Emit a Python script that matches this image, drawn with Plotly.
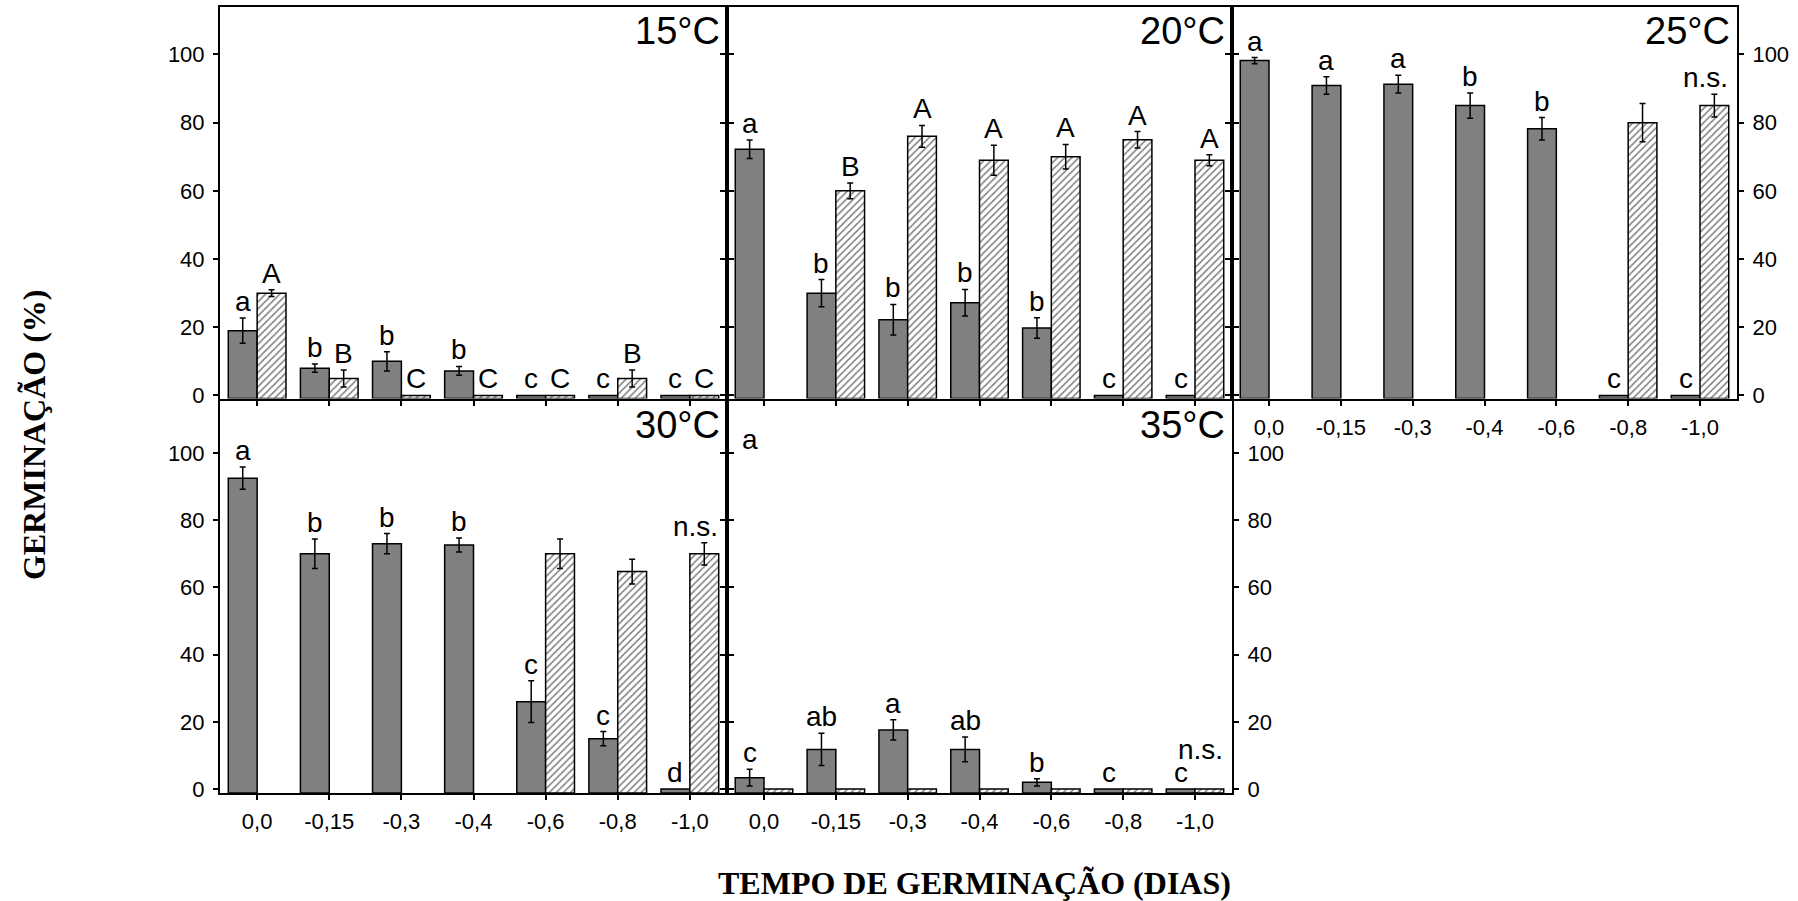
import plotly.graph_objects as go

# ---------------- data ----------------
categories = ["0,0", "-0,15", "-0,3", "-0,4", "-0,6", "-0,8", "-1,0"]
y_tick_vals = [0, 20, 40, 60, 80, 100]

# 15 °C
t15_solid = [19.0, 8.0, 10.0, 7.2, 0, 0, 0]
t15_solid_err = [3.7, 1.2, 2.8, 1.3, 0, 0, 0]
t15_hatch = [30.0, 5.0, 0, 0, 0, 5.0, 0]
t15_hatch_err = [1.0, 2.5, 0, 0, 0, 2.5, 0]
t15_solid_lab = ["a", "b", "b", "b", "c", "c", "c"]
t15_hatch_lab = ["A", "B", "C", "C", "C", "B", "C"]

# 20 °C
t20_solid = [72.2, 30.0, 22.2, 27.2, 19.8, 0, 0]
t20_solid_err = [2.7, 4.0, 4.5, 3.9, 3.0, 0, 0]
t20_hatch = [None, 60.0, 76.0, 69.0, 70.0, 75.0, 69.0]
t20_hatch_err = [0, 2.3, 3.2, 4.4, 3.6, 2.4, 1.6]
t20_solid_lab = ["a", "b", "b", "b", "b", "c", "c"]
t20_hatch_lab = ["", "B", "A", "A", "A", "A", "A"]

# 25 °C
t25_solid = [98.2, 90.9, 91.3, 85.0, 78.2, 0, 0]
t25_solid_err = [0.9, 2.6, 2.6, 3.7, 3.3, 0, 0]
t25_hatch = [None, None, None, None, None, 80.0, 85.0]
t25_hatch_err = [0, 0, 0, 0, 0, 5.6, 3.3]
t25_solid_lab = ["a", "a", "a", "b", "b", "c", "c"]
t25_hatch_lab = ["", "", "", "", "", "", "n.s."]

# 30 °C
t30_solid = [92.5, 70.0, 73.0, 72.6, 26.0, 15.0, 0]
t30_solid_err = [3.3, 4.4, 3.0, 2.1, 6.2, 2.1, 0]
t30_hatch = [None, None, None, None, 70.0, 64.7, 70.0]
t30_hatch_err = [0, 0, 0, 0, 4.4, 3.7, 3.3]
t30_solid_lab = ["a", "b", "b", "b", "c", "c", "d"]
t30_hatch_lab = ["", "", "", "", "", "", "n.s."]

# 35 °C
t35_solid = [3.4, 11.8, 17.6, 11.8, 2.0, 0, 0]
t35_solid_err = [2.5, 4.8, 3.0, 3.7, 1.1, 0, 0]
t35_hatch = [0, 0, 0, 0, 0, 0, 0]
t35_hatch_err = [0, 0, 0, 0, 0, 0, 0]
t35_solid_lab = ["c", "ab", "a", "ab", "b", "c", "c"]
t35_hatch_lab = ["", "", "", "", "", "", "n.s."]

panel_titles = ["15°C", "20°C", "25°C", "30°C", "35°C"]
x_title = "TEMPO DE GERMINAÇÃO (DIAS)"
y_title = "GERMINAÇÃO (%)"

# ---------------- layout geometry ----------------
W, H = 1798, 901
col_px = [(220, 727), (727, 1232), (1232, 1737)]
row_px = [(7.5, 403), (405, 802)]
row_ranges = [[-0.9, 113.8], [-1.2, 115.6]]

panels = [
    dict(title=panel_titles[0], r=0, c=0, s=t15_solid, se=t15_solid_err, h=t15_hatch, he=t15_hatch_err,
         sl=t15_solid_lab, hl=t15_hatch_lab, yside="left", ylab=True, xlab=False),
    dict(title=panel_titles[1], r=0, c=1, s=t20_solid, se=t20_solid_err, h=t20_hatch, he=t20_hatch_err,
         sl=t20_solid_lab, hl=t20_hatch_lab, yside="left", ylab=False, xlab=False),
    dict(title=panel_titles[2], r=0, c=2, s=t25_solid, se=t25_solid_err, h=t25_hatch, he=t25_hatch_err,
         sl=t25_solid_lab, hl=t25_hatch_lab, yside="right", ylab=True, xlab=True),
    dict(title=panel_titles[3], r=1, c=0, s=t30_solid, se=t30_solid_err, h=t30_hatch, he=t30_hatch_err,
         sl=t30_solid_lab, hl=t30_hatch_lab, yside="left", ylab=True, xlab=True),
    dict(title=panel_titles[4], r=1, c=1, s=t35_solid, se=t35_solid_err, h=t35_hatch, he=t35_hatch_err,
         sl=t35_solid_lab, hl=t35_hatch_lab, yside="right", ylab=True, xlab=True),
]

SANS = "Liberation Sans, Arial, sans-serif"
SERIF = "Liberation Serif, Times New Roman, serif"
GRAY = "#808080"
BW = 0.4  # bar width in category units

fig = go.Figure()
layout = dict(width=W, height=H, margin=dict(l=0, r=0, t=0, b=0),
              paper_bgcolor="white", plot_bgcolor="white", showlegend=False,
              barmode="overlay", annotations=[])

for k, p in enumerate(panels, start=1):
    xa = "x" if k == 1 else f"x{k}"
    ya = "y" if k == 1 else f"y{k}"
    xkey = "xaxis" if k == 1 else f"xaxis{k}"
    ykey = "yaxis" if k == 1 else f"yaxis{k}"
    ymin = row_ranges[p["r"]][0]
    x0, x1 = col_px[p["c"]]
    top, bot = row_px[p["r"]]

    layout[xkey] = dict(
        domain=[x0 / W, x1 / W], anchor=ya, range=[-0.515, 6.515],
        tickmode="array", tickvals=list(range(len(categories))), ticktext=categories,
        ticks="outside", ticklen=5, tickwidth=1.5, tickcolor="black",
        showline=True, linecolor="black", linewidth=2, mirror=True,
        showgrid=False, zeroline=False, showticklabels=p["xlab"],
        tickfont=dict(family=SANS, size=22, color="black"), ticklabelstandoff=3,
    )
    layout[ykey] = dict(
        domain=[1 - bot / H, 1 - top / H], anchor=xa, range=row_ranges[p["r"]],
        side=p["yside"], tickmode="array", tickvals=y_tick_vals,
        ticks="outside", ticklen=5, tickwidth=1.5, tickcolor="black",
        showline=True, linecolor="black", linewidth=2, mirror="ticks",
        showgrid=False, zeroline=False, showticklabels=p["ylab"],
        tickfont=dict(family=SANS, size=22, color="black"), ticklabelstandoff=4,
    )

    # solid (gray) bars, left of the tick
    idx_s = [i for i, v in enumerate(p["s"]) if v is not None]
    fig.add_trace(go.Bar(
        x=[i - BW / 2 for i in idx_s], y=[p["s"][i] - ymin for i in idx_s], base=ymin,
        width=BW, xaxis=xa, yaxis=ya,
        marker=dict(color=GRAY, line=dict(color="black", width=1.5)),
    ))
    # hatched bars, right of the tick
    idx_h = [i for i, v in enumerate(p["h"]) if v is not None]
    fig.add_trace(go.Bar(
        x=[i + BW / 2 for i in idx_h], y=[p["h"][i] - ymin for i in idx_h], base=ymin,
        width=BW, xaxis=xa, yaxis=ya,
        marker=dict(color="white", line=dict(color="black", width=1.5),
                    pattern=dict(shape="/", fgcolor="black", bgcolor="white", size=5, solidity=0.3)),
    ))
    # error bars
    for vals, errs, off in ((p["s"], p["se"], -BW / 2), (p["h"], p["he"], BW / 2)):
        ie = [i for i, v in enumerate(vals) if v is not None and errs[i] > 0]
        if ie:
            fig.add_trace(go.Scatter(
                x=[i + off for i in ie], y=[vals[i] for i in ie], mode="markers",
                marker=dict(size=1, color="rgba(0,0,0,0)"), xaxis=xa, yaxis=ya,
                error_y=dict(type="data", array=[errs[i] for i in ie], visible=True,
                             color="black", thickness=1.5, width=3),
            ))
    # letters
    for vals, errs, labs, off in ((p["s"], p["se"], p["sl"], -BW / 2), (p["h"], p["he"], p["hl"], BW / 2)):
        for i, lab in enumerate(labs):
            if not lab:
                continue
            v = vals[i] if vals[i] is not None else 0
            ys, xs = -1, 0
            if lab == "n.s.":
                xs = -9
                if k == 5:
                    ys = 22
            layout["annotations"].append(dict(
                x=i + off, y=v + errs[i], xref=xa, yref=ya, text=lab, showarrow=False,
                xanchor="center", yanchor="bottom", yshift=ys, xshift=xs,
                font=dict(family=SANS, size=28, color="black"),
            ))
    # panel title
    layout["annotations"].append(dict(
        x=1, y=1, xref=f"{xa} domain", yref=f"{ya} domain", text=p["title"], showarrow=False,
        xanchor="right", yanchor="top", xshift=-5, yshift=-1,
        font=dict(family=SANS, size=38, color="black"),
    ))

# stray letter present in the original 35 °C panel
layout["annotations"].append(dict(
    x=-BW / 2, y=104, xref="x5", yref="y5", text="a", showarrow=False,
    xanchor="center", yanchor="middle", font=dict(family=SANS, size=28, color="black"),
))

# axis titles
layout["annotations"].append(dict(
    x=975 / W, y=1 - 893 / H, xref="paper", yref="paper", text=x_title, showarrow=False,
    xanchor="center", yanchor="middle",
    font=dict(family=SERIF, size=32, color="black", weight="bold"),
))
layout["annotations"].append(dict(
    x=34 / W, y=1 - 440 / H, xref="paper", yref="paper", text=y_title, showarrow=False,
    xanchor="center", yanchor="middle", textangle=-90,
    font=dict(family=SERIF, size=32, color="black", weight="bold"),
))

fig.update_layout(**layout)
fig.write_html("out.html")
